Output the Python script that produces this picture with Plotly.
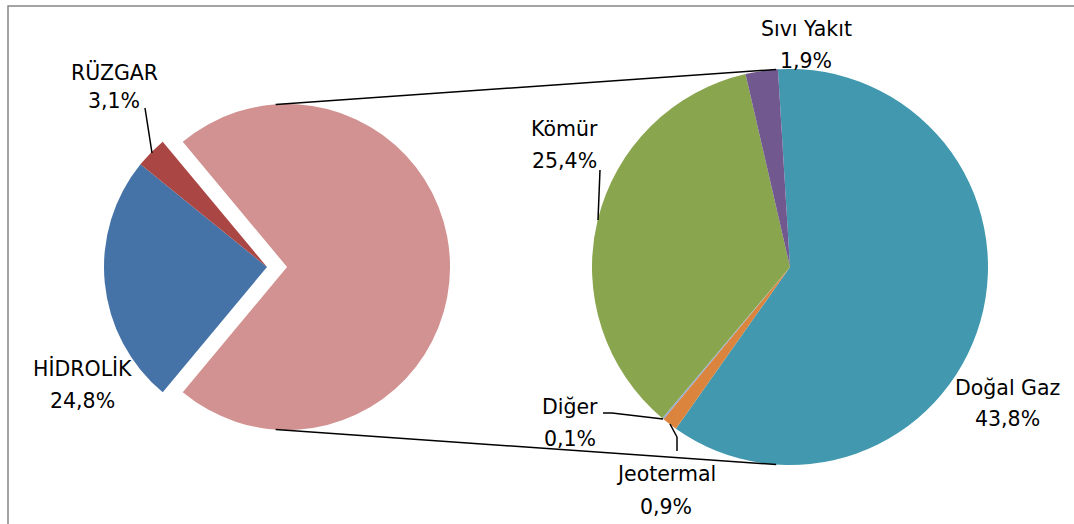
import math
import plotly.graph_objects as go

# ---------------- data ----------------
main_labels = ["Termik", "HİDROLİK", "RÜZGAR"]
main_values = [72.1, 24.8, 3.1]
main_colors = ["#D29291", "#4572A7", "#AA4643"]

sub_labels = ["Doğal Gaz", "Jeotermal", "Diğer", "Kömür", "Sıvı Yakıt"]
sub_values = [43.8, 0.9, 0.1, 25.4, 1.9]
sub_colors = ["#4198AF", "#DB843D", "#93A9CF", "#89A54E", "#71588F"]

label_text = {
    "RÜZGAR": ("RÜZGAR", "3,1%"),
    "HİDROLİK": ("HİDROLİK", "24,8%"),
    "Kömür": ("Kömür", "25,4%"),
    "Sıvı Yakıt": ("Sıvı Yakıt", "1,9%"),
    "Doğal Gaz": ("Doğal Gaz", "43,8%"),
    "Diğer": ("Diğer", "0,1%"),
    "Jeotermal": ("Jeotermal", "0,9%"),
}

# ---------------- layout geometry (pixels) ----------------
W, H = 1074, 524
L_CX, L_CY, L_R, L_PULL = 267, 267, 163, 0.123
R_CX, R_CY, R_R = 790, 267, 198
FONT = "DejaVu Sans"
FS = 20.5


def px(x, y):
    return x / W, 1 - y / H


def domain(cx, cy, side):
    return dict(x=[(cx - side / 2) / W, (cx + side / 2) / W],
                y=[(H - cy - side / 2) / H, (H - cy + side / 2) / H])


fig = go.Figure()

main_total = sum(main_values)
main_rot = 90 - main_values[0] / main_total * 180

fig.add_trace(go.Pie(
    labels=main_labels, values=main_values, sort=False, direction="clockwise",
    rotation=main_rot, pull=[L_PULL, 0, 0], textinfo="none", hoverinfo="label+value",
    marker=dict(colors=main_colors, line=dict(width=0)),
    domain=domain(L_CX, L_CY, 2 * L_R * (1 + L_PULL)), showlegend=False,
))

fig.add_trace(go.Pie(
    labels=sub_labels, values=sub_values, sort=False, direction="clockwise",
    rotation=-3.5, textinfo="none", hoverinfo="label+value",
    marker=dict(colors=sub_colors, line=dict(width=0)),
    domain=domain(R_CX, R_CY, 2 * R_R), showlegend=False,
))

shapes = []
# outer chart border
x0, y1 = px(8, 6)
shapes.append(dict(type="rect", xref="paper", yref="paper", x0=x0, y0=-0.2,
                   x1=1.2, y1=y1, line=dict(color="#868686", width=1.5)))

# connector lines between the pies
a = math.radians(4)
pcx = L_CX + L_PULL * L_R
for sgn in (-1, 1):
    xa = pcx - L_R * math.sin(a)
    ya = L_CY + sgn * L_R * math.cos(a)
    xb = R_CX - R_R * math.sin(a)
    yb = R_CY + sgn * R_R * math.cos(a)
    (u0, v0), (u1, v1) = px(xa, ya), px(xb, yb)
    shapes.append(dict(type="line", xref="paper", yref="paper",
                       x0=u0, y0=v0, x1=u1, y1=v1, line=dict(color="black", width=1.5)))

# leader lines
leaders = [
    [(145, 108), (152, 153)],
    [(600, 170), (598, 220)],
    [(603, 413), (612, 413), (663, 419)],
    [(670, 424), (677, 437), (677, 451)],
]
for pts in leaders:
    for (xa, ya), (xb, yb) in zip(pts[:-1], pts[1:]):
        (u0, v0), (u1, v1) = px(xa, ya), px(xb, yb)
        shapes.append(dict(type="line", xref="paper", yref="paper",
                           x0=u0, y0=v0, x1=u1, y1=v1, line=dict(color="black", width=1.5)))

# label positions (pixel centres of the two text lines)
label_pos = {
    "RÜZGAR": (114, 72, 101),
    "HİDROLİK": (82, 368, 401),
    "Kömür": (564, 129, 161),
    "Sıvı Yakıt": (806, 29, 61),
    "Doğal Gaz": (1007, 388, 419),
    "Diğer": (570, 407, 439),
    "Jeotermal": (666, 474, 507),
}
annotations = []
for key, (x, ya, yb) in label_pos.items():
    name, pct = label_text[key]
    for txt, yy in ((name, ya), (pct, yb)):
        u, v = px(x, yy)
        annotations.append(dict(text=txt, x=u, y=v, xref="paper", yref="paper",
                                xanchor="center", yanchor="middle", showarrow=False,
                                font=dict(family=FONT, size=FS, color="black")))

fig.update_layout(
    width=W, height=H, margin=dict(l=0, r=0, t=0, b=0),
    paper_bgcolor="white", plot_bgcolor="white",
    shapes=shapes, annotations=annotations,
)

fig.write_html("out.html", config={"displayModeBar": False},
               post_script="document.body.style.margin='0px';")
